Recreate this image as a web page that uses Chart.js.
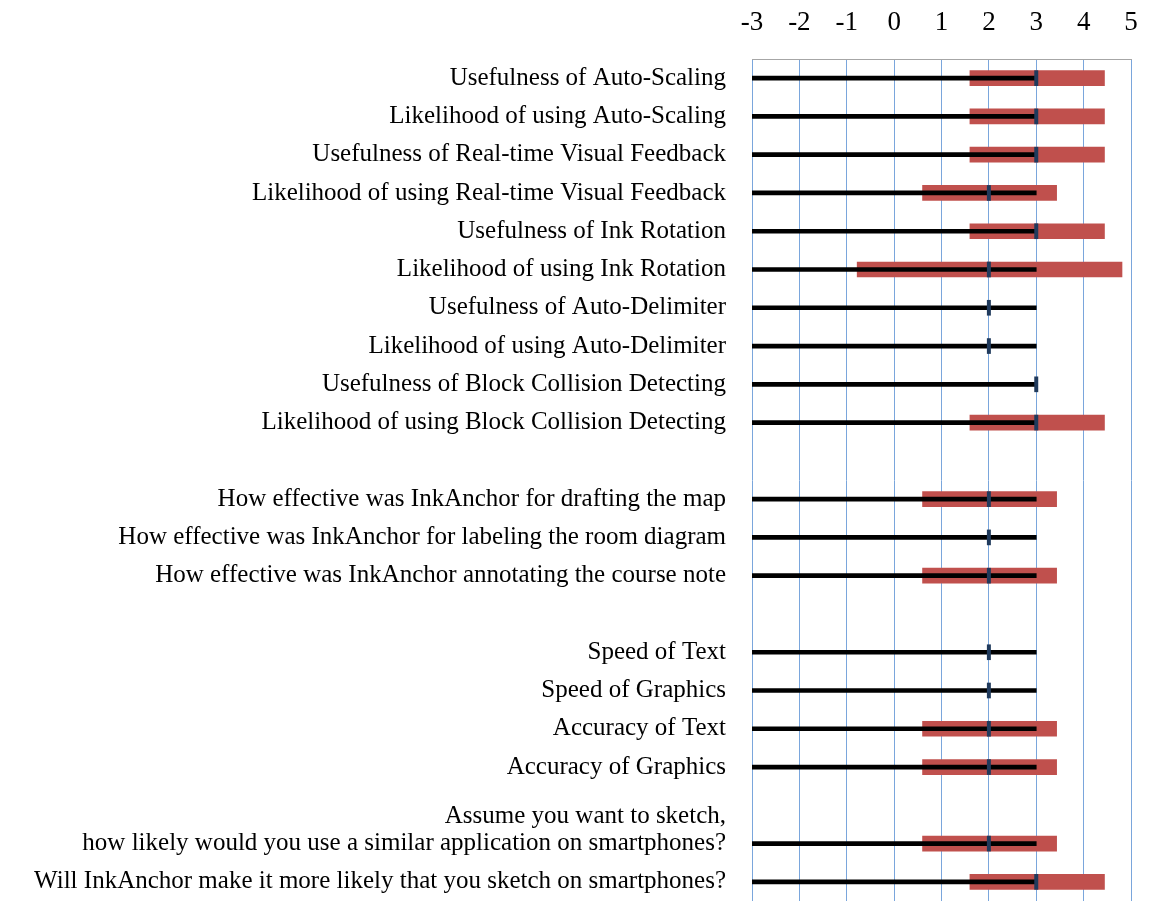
<!DOCTYPE html>
<html lang="en">
<head>
    <meta charset="UTF-8">
    <title>InkAnchor questionnaire</title>
    <style>
        body {
            margin: 0;
            background: #ffffff;
        }
        canvas {
            display: block;
        }
    </style>
    <script src="https://cdn.jsdelivr.net/npm/chart.js"></script>
</head>
<body>
    <canvas id="chart" width="1161" height="908"></canvas>

    <script>
        // Preguntas (filas vacías = separadores entre bloques)
        const labels = [
            'Usefulness of Auto-Scaling',
            'Likelihood of using Auto-Scaling',
            'Usefulness of Real-time Visual Feedback',
            'Likelihood of using Real-time Visual Feedback',
            'Usefulness of Ink Rotation',
            'Likelihood of using Ink Rotation',
            'Usefulness of Auto-Delimiter',
            'Likelihood of using Auto-Delimiter',
            'Usefulness of Block Collision Detecting',
            'Likelihood of using Block Collision Detecting',
            '',
            'How effective was InkAnchor for drafting the map',
            'How effective was InkAnchor for labeling the room diagram',
            'How effective was InkAnchor annotating the course note',
            '',
            'Speed of Text',
            'Speed of Graphics',
            'Accuracy of Text',
            'Accuracy of Graphics',
            '',
            ['Assume you want to sketch,', 'how likely would you use a similar application on smartphones?', ''],
            'Will InkAnchor make it more likely that you sketch on smartphones?'
        ];

        const xTicks = [-3, -2, -1, 0, 1, 2, 3, 4, 5];

        // barra roja (rango)
        const rangeLow  = [1.6, 1.6, 1.6, 0.6, 1.6, -0.78, null, null, null, 1.6, null, 0.6, null, 0.6, null, null, null, 0.6, 0.6, null, 0.6, 1.6];
        const rangeHigh = [4.44, 4.44, 4.44, 3.43, 4.44, 4.81, null, null, null, 4.44, null, 3.43, null, 3.43, null, null, null, 3.43, 3.43, null, 3.43, 4.44];
        // línea negra
        const lineStart = [-3, -3, -3, -3, -3, -3, -3, -3, -3, -3, null, -3, -3, -3, null, -3, -3, -3, -3, null, -3, -3];
        const lineEnd   = [3, 3, 3, 3, 3, 3, 3, 3, 3, 3, null, 3, 3, 3, null, 3, 3, 3, 3, null, 3, 3];
        // marca azul (mediana)
        const median    = [3, 3, 3, 2, 3, 2, 2, 2, 3, 3, null, 2, 2, 2, null, 2, 2, 2, 2, null, 2, 3];

        function pares(a, b) {
            return a.map((v, i) => (v === null ? null : [v, b[i]]));
        }
        const markHalf = 0.035;

        const ctx = document.getElementById('chart').getContext('2d');
        const chart = new Chart(ctx, {
            type: 'bar',
            data: {
                labels: labels,
                datasets: [
                    {
                        data: median.map(m => (m === null ? null : [m - markHalf, m + markHalf])),
                        backgroundColor: '#203a5c',
                        barThickness: 15,
                        grouped: false,
                        order: 0
                    },
                    {
                        data: pares(lineStart, lineEnd),
                        backgroundColor: '#000000',
                        barThickness: 4,
                        grouped: false,
                        order: 1
                    },
                    {
                        data: pares(rangeLow, rangeHigh),
                        backgroundColor: '#c0504d',
                        barThickness: 15,
                        grouped: false,
                        order: 2
                    }
                ]
            },
            options: {
                indexAxis: 'y',
                responsive: false,
                animation: false,
                layout: {
                    padding: { left: 0, right: 30, top: 0, bottom: 7 }
                },
                plugins: {
                    legend: { display: false },
                    tooltip: { enabled: false }
                },
                scales: {
                    x: {
                        type: 'linear',
                        position: 'top',
                        min: -3,
                        max: 5,
                        afterBuildTicks: function (scale) {
                            scale.ticks = xTicks.map(v => ({ value: v }));
                        },
                        afterFit: function (scale) {
                            scale.height = 59;
                        },
                        grid: {
                            color: '#7aa6dc',
                            lineWidth: 1,
                            drawTicks: false
                        },
                        border: {
                            display: true,
                            color: '#a6a6a6'
                        },
                        ticks: {
                            padding: 20,
                            color: '#000000',
                            font: { family: 'Liberation Serif', size: 27 }
                        }
                    },
                    y: {
                        type: 'category',
                        afterFit: function (scale) {
                            scale.width = 752;
                            scale.paddingTop = 0;
                            scale.paddingBottom = 0;
                        },
                        grid: {
                            display: false,
                            drawTicks: false
                        },
                        border: { display: false },
                        ticks: {
                            padding: 26,
                            autoSkip: false,
                            color: '#000000',
                            font: { family: 'Liberation Serif', size: 25, lineHeight: 1.1 }
                        }
                    }
                }
            }
        });
    </script>
</body>
</html>
